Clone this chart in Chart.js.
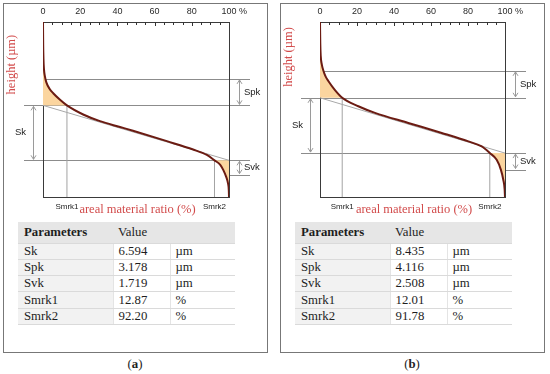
<!DOCTYPE html>
<html>
<head>
<meta charset="utf-8">
<script src="https://cdn.jsdelivr.net/npm/chart.js@4.4.1/dist/chart.umd.min.js"></script>
<style>
    html, body { margin: 0; padding: 0; background: #fff; }
    body { width: 550px; height: 374px; position: relative; overflow: hidden; font-family: 'Liberation Serif', serif; color: #222; }
    .panel { position: absolute; top: 3px; width: 263px; height: 348px; border: 1px solid #777; }
    .plot { position: absolute; top: 0; }
    table.params { position: absolute; border-collapse: collapse; table-layout: fixed; width: 217px; font-size: 12.8px; color: #1e1e1e; }
    table.params th, table.params td { padding: 0 0 0 5px; text-align: left; border-bottom: 1px solid #dadada; white-space: nowrap; overflow: hidden; }
    table.params th { background: #e6e6e6; height: 20.5px; font-weight: normal; }
    table.params th.b { font-weight: bold; }
    table.params td { height: 15.3px; line-height: 15px; }
    table.params td:first-child, table.params th:first-child { padding-left: 6px; }
    table.params td:first-child { background: #f2f2f2; }
    table.params td + td { border-left: 1px solid #e4e4e4; }
    .caption { position: absolute; top: 357px; width: 40px; text-align: center; font-size: 12.8px; }
</style>
</head>
<body>
<div class="panel" style="left:3px"></div>
<div class="panel" style="left:280px"></div>
<canvas id="chartA" class="plot" width="275" height="220" style="left:0"></canvas>
<canvas id="chartB" class="plot" width="275" height="220" style="left:275px"></canvas>
<table class="params" id="tabA" style="left:18px; top:222px"></table>
<table class="params" id="tabB" style="left:295px; top:222px"></table>
<div class="caption" style="left:115px">(<b>a</b>)</div>
<div class="caption" style="left:392px">(<b>b</b>)</div>

<script>
// courbe d'Abbott-Firestone (a) : taux de portance (%) / hauteur (µm)
const ratioA = [0, 0.1, 0.25, 0.5, 1.0, 1.8, 3.5, 5.5, 9.0, 12.87, 21.6, 30.6, 41.4, 48.4, 66.6, 80.7, 88.1, 92.2, 95.3, 96.9, 98.5, 99.5, 99.9, 100];
const heightA = [21.0, 18.3, 16.6, 15.4, 14.5, 13.75, 13.0, 12.45, 11.7, 10.994, 9.9, 9.1, 8.4, 7.95, 6.7, 5.7, 5.05, 4.4, 3.86, 3.26, 2.41, 1.6, 0.8, 0];

// courbe (b)
const ratioB = [0, 0.15, 0.4, 1.0, 1.8, 3.0, 4.5, 8.1, 12.01, 20.7, 29.7, 47.7, 65.8, 80.2, 87.4, 91.78, 95.5, 97.8, 99.1, 99.8, 100];
const heightB = [26.7, 23.5, 21.5, 20.2, 19.3, 18.4, 17.7, 16.3, 15.135, 13.85, 12.84, 11.3, 9.77, 8.48, 7.71, 6.70, 5.67, 4.14, 2.6, 1.2, 0];

const paramNames = ['Sk', 'Spk', 'Svk', 'Smrk1', 'Smrk2'];
const paramUnits = ['µm', 'µm', 'µm', '%', '%'];
const valuesA = ['6.594', '3.178', '1.719', '12.87', '92.20'];
const valuesB = ['8.435', '4.116', '2.508', '12.01', '91.78'];

const xTicks = [0, 20, 40, 60, 80, 100];

// hauteur du bas de la zone Sk et hauteur max de chaque graphe (µm)
const skLowA = 4.4, skLowB = 6.7;
const heightMaxA = 21, heightMaxB = 26.7;

const RED = '#d24b4b';

function pts(r, h) {
    return r.map((x, i) => ({ x: x, y: h[i] }));
}

// taux où la courbe coupe un niveau donné
function crossAt(r, h, level) {
    for (let i = 1; i < h.length; i++) {
        if (h[i] <= level) {
            const t = (h[i - 1] - level) / (h[i - 1] - h[i]);
            return r[i - 1] + t * (r[i] - r[i - 1]);
        }
    }
    return r[r.length - 1];
}

function arrow(ctx, px, y0, y1) {
    ctx.beginPath();
    ctx.moveTo(px, y0); ctx.lineTo(px, y1);
    ctx.moveTo(px - 2.5, y0 + 4); ctx.lineTo(px, y0); ctx.lineTo(px + 2.5, y0 + 4);
    ctx.moveTo(px - 2.5, y1 - 4); ctx.lineTo(px, y1); ctx.lineTo(px + 2.5, y1 - 4);
    ctx.stroke();
}

function decor(lv, r, h) {
    return {
        id: 'decor',
        beforeDatasetsDraw(chart) {
            const { ctx, chartArea: a, scales: { x, y } } = chart;
            ctx.save();
            ctx.lineWidth = 1;
            ctx.strokeStyle = '#8c8c8c';
            const hline = (x0, x1, v) => {
                const py = Math.round(y.getPixelForValue(v)) + 0.5;
                ctx.beginPath(); ctx.moveTo(x0, py); ctx.lineTo(x1, py); ctx.stroke();
            };
            hline(x.getPixelForValue(crossAt(r, h, lv.spkTop)), a.right + 21, lv.spkTop);
            hline(a.left - 19, a.right + 21, lv.skUp);
            hline(a.left - 19, a.right + 21, lv.skLow);
            hline(x.getPixelForValue(crossAt(r, h, lv.svkBot)), a.right + 21, lv.svkBot);

            // cadre
            ctx.strokeStyle = '#3a3a3a';
            ctx.strokeRect(a.left + 0.5, a.top + 0.5, a.right - a.left, a.bottom - a.top);
            ctx.restore();
        },
        afterDatasetsDraw(chart) {
            const { ctx, chartArea: a, scales: { x, y } } = chart;
            ctx.save();
            // graduations
            ctx.strokeStyle = '#333';
            ctx.lineWidth = 1;
            for (let v = 5; v < 100; v += 5) {
                const px = Math.round(x.getPixelForValue(v)) + 0.5;
                ctx.beginPath(); ctx.moveTo(px, a.top); ctx.lineTo(px, a.top + (v % 20 ? 3 : 4)); ctx.stroke();
            }
            ctx.fillStyle = '#2a2a2a';
            ctx.font = '9px "Liberation Sans", Arial, sans-serif';
            ctx.textAlign = 'center';
            ctx.textBaseline = 'middle';
            xTicks.forEach(v => {
                const px = x.getPixelForValue(v);
                ctx.fillText(String(v), px, a.top - 10.5);
                if (v === 100) {
                    ctx.textAlign = 'left';
                    ctx.fillText(' %', px + ctx.measureText('100').width / 2, a.top - 10.5);
                    ctx.textAlign = 'center';
                }
            });

            // flèches et libellés Spk / Sk / Svk
            ctx.strokeStyle = '#9a9a9a';
            const pTop = y.getPixelForValue(lv.spkTop), pUp = y.getPixelForValue(lv.skUp);
            const pLow = y.getPixelForValue(lv.skLow), pBot = y.getPixelForValue(lv.svkBot);
            arrow(ctx, a.right + 10.5, pTop + 1, pUp - 1);
            arrow(ctx, a.right + 10.5, pLow + 1, pBot - 1);
            arrow(ctx, a.left - 9.5, pUp + 1, pLow - 1);
            ctx.fillStyle = '#222';
            ctx.font = '9.5px "Liberation Sans", Arial, sans-serif';
            ctx.textAlign = 'left';
            ctx.fillText('Spk', a.right + 15, (pTop + pUp) / 2);
            ctx.fillText('Svk', a.right + 15, (pLow + pBot) / 2);
            ctx.textAlign = 'right';
            ctx.fillText('Sk', a.left - 17, (pUp + pLow) / 2);

            // Smrk1 / Smrk2
            ctx.font = '8px "Liberation Sans", Arial, sans-serif';
            ctx.textAlign = 'center';
            ctx.fillText('Smrk1', x.getPixelForValue(lv.smrk1), a.bottom + 9.5);
            ctx.fillText('Smrk2', x.getPixelForValue(lv.smrk2), a.bottom + 9.5);

            // titres d'axes
            ctx.fillStyle = RED;
            ctx.font = '12.5px "Liberation Serif", serif';
            ctx.fillText('areal material ratio (%)', (a.left + a.right) / 2 + 1.5, a.bottom + 13);
            ctx.translate(a.left - 31, pUp - 11);
            ctx.rotate(-Math.PI / 2);
            ctx.textAlign = 'left';
            ctx.fillText('height (µm)', 0, 0);
            ctx.restore();
        }
    };
}

function makeChart(id, r, h, values, skLow, hMax, pad) {
    const v = values.map(Number);
    const lv = {
        skLow: skLow,
        skUp: skLow + v[0],
        spkTop: skLow + v[0] + v[1],
        svkBot: skLow - v[2],
        smrk1: v[3],
        smrk2: v[4]
    };
    const curve = pts(r, h);
    const topPart = curve.filter(p => p.x <= lv.smrk1);
    const botPart = curve.filter(p => p.x >= lv.smrk2);
    const none = 'rgba(0,0,0,0)';

    return new Chart(document.getElementById(id), {
        type: 'line',
        data: {
            datasets: [
                { data: curve, borderColor: '#6b1b12', borderWidth: 2, pointRadius: 0, cubicInterpolationMode: 'monotone', fill: false },
                { data: [{ x: 0, y: lv.skUp }, { x: 100, y: lv.skLow }], borderColor: '#a8a8a8', borderWidth: 1, pointRadius: 0, fill: false },
                { data: [{ x: lv.smrk1, y: 0 }, { x: lv.smrk1, y: lv.skUp }], borderColor: '#a3a3a3', borderWidth: 1, pointRadius: 0, fill: false },
                { data: [{ x: lv.smrk2, y: 0 }, { x: lv.smrk2, y: lv.skLow }], borderColor: '#a3a3a3', borderWidth: 1, pointRadius: 0, fill: false },
                { data: topPart, borderColor: none, borderWidth: 1, pointRadius: 0, cubicInterpolationMode: 'monotone', fill: { value: lv.skUp }, backgroundColor: '#fbd59f' },
                { data: botPart, borderColor: none, borderWidth: 1, pointRadius: 0, cubicInterpolationMode: 'monotone', fill: { value: lv.skLow }, backgroundColor: '#fbd59f' }
            ]
        },
        options: {
            responsive: false,
            animation: false,
            devicePixelRatio: 1,
            layout: { padding: pad },
            plugins: { legend: { display: false }, tooltip: { enabled: false } },
            scales: {
                x: { type: 'linear', min: 0, max: 100, display: false },
                y: { type: 'linear', min: 0, max: hMax, display: false }
            }
        },
        plugins: [decor(lv, r, h)]
    });
}

function fillTable(id, values) {
    let html = '<colgroup><col style="width:95px"><col style="width:57px"><col style="width:65px"></colgroup>';
    html += '<tr><th class="b">Parameters</th><th>Value</th><th></th></tr>';
    paramNames.forEach((n, i) => {
        html += `<tr><td>${n}</td><td>${values[i]}</td><td>${paramUnits[i]}</td></tr>`;
    });
    document.getElementById(id).innerHTML = html;
}

makeChart('chartA', ratioA, heightA, valuesA, skLowA, heightMaxA, { left: 43, right: 46, top: 22, bottom: 23 });
makeChart('chartB', ratioB, heightB, valuesB, skLowB, heightMaxB, { left: 45, right: 45, top: 22, bottom: 23 });
fillTable('tabA', valuesA);
fillTable('tabB', valuesB);
</script>
</body>
</html>
